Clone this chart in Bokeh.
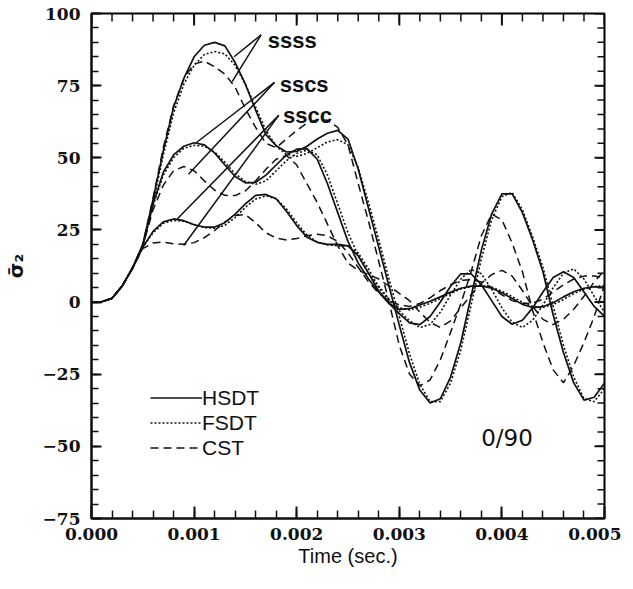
import numpy as np
from bokeh.plotting import figure
from bokeh.models import (Range1d, FixedTicker, Legend, LegendItem,
                          CustomJSTickFormatter, PrintfTickFormatter)
from bokeh.core.properties import value
from bokeh.embed import file_html
from bokeh.resources import INLINE

# time grid (s), 0.0001 s steps
time_s = np.linspace(0.0, 0.005, 51)

# ---- ssss ----
ssss_hsdt = [0, 0.1, 1.3, 5.6, 11.8, 20, 35.5, 52.5, 67.5, 77.5, 85, 89, 90, 88.8, 83, 75.5,
             66.5, 58, 54.2, 52, 52.2, 54, 56.5, 58.5, 59.5, 56.5, 46, 32.5, 19, 5.5, -8,
             -21, -30.5, -35, -33.5, -26, -14, 2, 18, 30.5, 37.5, 37.5, 31, 21.5, 10.5,
             -4.5, -17.5, -28, -34, -33, -28]
ssss_fsdt = [0, 0.1, 1.3, 5.6, 11.8, 19.5, 34.5, 51, 65.5, 75.5, 82, 85.8, 86.8, 86, 82,
             75.5, 67.5, 59.5, 54, 51.2, 50.5, 51.5, 53.5, 55.5, 56.3, 54.5, 46.5, 34.5,
             21.5, 8, -5, -18, -28.5, -34.5, -34.5, -28, -16.5, -1, 15, 28.5, 36.5, 38,
             32, 22.5, 12, -1.5, -15, -26, -33.5, -34.5, -30]
ssss_cst = [0, 0.1, 1.3, 5.6, 11.8, 20, 36, 53.5, 68, 77.5, 82.5, 83.5, 81.5, 79, 74.5,
            67, 60.5, 55, 53.5, 56.5, 59.5, 62, 63.2, 63, 60.5, 54.5, 41, 28, 14, 0, -15,
            -25, -29, -27, -20, -10.5, -0.5, 10.5, 23, 30.5, 28.5, 20.5, 10.5, -3, -14,
            -23.5, -28, -22, -14, -5, 6]

# ---- sscs ----
sscs_hsdt = [0, 0.1, 1.3, 5.6, 11.8, 19.5, 34, 45, 51, 54, 55.2, 54.5, 51.7, 47.5, 43.5,
             41.3, 41.5, 44, 47.5, 51, 53, 53.2, 49.5, 41, 31, 21, 13.5, 8, 3.5, -0.5, -4,
             -7.2, -7.8, -5, 0, 5.5, 9.8, 9.8, 6, 0.5, -5, -7.7, -6.3, -2, 3.5, 8.5, 10.5,
             8.5, 3.5, -1.5, -5]
sscs_fsdt = [0, 0.1, 1.3, 5.6, 11.8, 19.5, 33.5, 44, 50, 53.3, 54.3, 54, 52, 48.5, 44.5,
             41.8, 40.8, 42, 45.5, 49, 51.5, 52.7, 51, 44, 34, 24, 16, 10, 5.5, 1, -3,
             -6.5, -8.8, -7.8, -3.5, 2.5, 8, 11.3, 9.8, 4.5, -2, -7, -8.8, -6.3, -1, 5, 10,
             11.5, 8, 2, -3.5]
sscs_cst = [0, 0.1, 1.3, 5.6, 11.8, 19.5, 32, 40.5, 45.5, 47, 45.5, 42, 38.8, 37, 36.9,
            38.5, 42, 46, 49.5, 50.8, 47.5, 41, 34.5, 27, 19.5, 13.5, 11, 9.5, 8, 5.5, 3,
            0.5, -3.5, -7, -8.8, -6.5, -2, 2.5, 6.5, 9.5, 11, 9, 4, -1.5, -6, -7.8, -6,
            -2.5, 2, 7, 11]

# ---- sscc ----
sscc_hsdt = [0, 0.1, 1.3, 5.6, 11.8, 19, 24.5, 27.8, 28.8, 28.2, 26.8, 26, 26, 27.5, 30.5,
             34, 37, 37.3, 35.8, 31.5, 26.5, 22.5, 20.7, 20, 20, 19.5, 16, 10, 3.8, -0.5,
             -2.5, -2.3, -1, 0.3, 1.8, 3.5, 4.8, 5.5, 5.6, 4.8, 3.2, 1.2, -0.8, -1.9, -1.6,
             -0.2, 1.8, 3.6, 4.8, 5.3, 5.2]
sscc_fsdt = [0, 0.1, 1.3, 5.6, 11.8, 19, 24, 27.3, 28.3, 28, 26.9, 25.8, 25.6, 26.6, 29.3,
             32.8, 35.7, 36.8, 35.8, 32.3, 27.5, 23.2, 20.8, 19.8, 19.5, 19.4, 17, 11.5, 5,
             0.5, -2, -2.7, -1.8, -0.4, 1.2, 3, 4.5, 5.4, 5.7, 5.2, 3.8, 1.9, -0.1, -1.5,
             -1.8, -0.9, 0.9, 2.9, 4.5, 5.4, 5.7]
sscc_cst = [0, 0.1, 1.3, 5.6, 11.8, 18.5, 20.5, 20.8, 20.2, 20, 20.6, 22.3, 24.8, 27.8, 30,
            30.3, 27.5, 24, 22.2, 21.5, 22, 23, 23.5, 23, 21, 17, 12, 7, 3, 0.5, -1, -1.5,
            -0.5, 1.5, 4, 6, 7.5, 7.8, 7, 5, 2.5, 0.5, -0.5, -0.3, 1, 3.5, 6, 8, 9, 9, 8.5]

# axis ranges and tick values
x_lo, x_hi = 0.0, 0.005
y_lo, y_hi = -75, 100
x_major = [0.0, 0.001, 0.002, 0.003, 0.004, 0.005]
x_minor = [round(i * 0.0002, 4) for i in range(26)]
y_major = [-75, -50, -25, 0, 25, 50, 75, 100]
y_minor = list(range(-75, 101, 5))

# annotation labels and leader lines
case_labels = ["ssss", "sscs", "sscc"]
case_label_x = [0.001718, 0.001834, 0.001866]
case_label_y = [90.7, 75.5, 64.8]
leader_x0 = [0.001653, 0.001653, 0.001783, 0.001783, 0.001825, 0.001825]
leader_y0 = [92.6, 92.6, 76.1, 76.1, 64.7, 64.7]
leader_x1 = [0.00139, 0.001371, 0.000945, 0.00102, 0.000835, 0.000898]
leader_y1 = [85.0, 76.4, 44.3, 55.2, 28.8, 19.6]

legend_labels = ["HSDT", "FSDT", "CST"]
layup_text = ["0/90"]
layup_x = [0.00405]
layup_y = [-47.0]

p = figure(frame_width=513, frame_height=505, title=None,
           x_range=Range1d(x_lo, x_hi), y_range=Range1d(y_lo, y_hi),
           output_backend="svg", toolbar_location=None,
           min_border_left=87, min_border_right=17, min_border_top=13, min_border_bottom=55)
p.xgrid.visible = False
p.ygrid.visible = False
p.outline_line_color = "black"
p.outline_line_width = 2
p.background_fill_color = "white"
p.border_fill_color = "white"

INK = "#111111"

def style_axis(ax, ticker, major_in, minor_in):
    ax.ticker = ticker
    ax.major_tick_in = major_in
    ax.major_tick_out = 0
    ax.minor_tick_in = minor_in
    ax.minor_tick_out = 0
    ax.axis_line_width = 2
    ax.axis_line_color = INK
    ax.major_tick_line_width = 2
    ax.major_tick_line_color = INK
    ax.minor_tick_line_width = 1.5
    ax.minor_tick_line_color = INK
    ax.major_label_text_font = "DejaVu Serif"
    ax.major_label_text_font_style = "bold"
    ax.major_label_text_font_size = "17px"
    ax.major_label_text_color = INK

xa = p.xaxis[0]
style_axis(xa, FixedTicker(ticks=x_major, minor_ticks=x_minor), 12, 8)
xa.formatter = PrintfTickFormatter(format="%.3f")
xa.major_label_standoff = 9
xa.axis_label = "Time (sec.)"
xa.axis_label_text_font = "Liberation Sans"
xa.axis_label_text_font_style = "normal"
xa.axis_label_text_font_size = "20px"
xa.axis_label_standoff = 2
xa.axis_label_text_color = INK

ya = p.yaxis[0]
style_axis(ya, FixedTicker(ticks=y_major, minor_ticks=y_minor), 10, 7)
ya.formatter = CustomJSTickFormatter(code="return tick < 0 ? '\u2212' + Math.abs(tick) : tick.toString();")
ya.major_label_standoff = 11
ya.axis_label = "\u03c3\u0304\u2082"
ya.axis_label_text_font = "DejaVu Sans"
ya.axis_label_text_font_style = "bold"
ya.axis_label_text_font_size = "20px"
ya.axis_label_standoff = 12
ya.axis_label_text_color = INK

# inward ticks on the top and right frame edges (dash markers centred on the edge,
# the outer half is clipped away by the frame)
top_major_y = [y_hi] * len(x_major)
top_minor_y = [y_hi] * len(x_minor)
right_major_x = [x_hi] * len(y_major)
right_minor_x = [x_hi] * len(y_minor)
p.scatter(x=x_minor, y=top_minor_y, marker="dash", angle=np.pi / 2, size=16,
          line_color=INK, line_width=1.5)
p.scatter(x=x_major, y=top_major_y, marker="dash", angle=np.pi / 2, size=24,
          line_color=INK, line_width=2)
p.scatter(x=right_minor_x, y=y_minor, marker="dash", size=14,
          line_color=INK, line_width=1.5)
p.scatter(x=right_major_x, y=y_major, marker="dash", size=20,
          line_color=INK, line_width=2)

SOLID_W, DOT_W, DASH_W = 1.7, 1.6, 1.5
DOT, DASH = "2 2", "8 5"

cst_r = []
for ys in (ssss_cst, sscs_cst, sscc_cst):
    cst_r.append(p.line(time_s, ys, line_color=INK, line_width=DASH_W, line_dash=DASH))
fsdt_r = []
for ys in (ssss_fsdt, sscs_fsdt, sscc_fsdt):
    fsdt_r.append(p.line(time_s, ys, line_color=INK, line_width=DOT_W, line_dash=DOT))
hsdt_r = []
for ys in (ssss_hsdt, sscs_hsdt, sscc_hsdt):
    hsdt_r.append(p.line(time_s, ys, line_color=INK, line_width=SOLID_W))

p.segment(x0=leader_x0, y0=leader_y0, x1=leader_x1, y1=leader_y1,
          line_color=INK, line_width=1.5)

p.text(x=case_label_x, y=case_label_y, text=case_labels,
       text_font=value("Liberation Sans"), text_font_style="bold",
       text_font_size="22px", text_align="left", text_baseline="alphabetic",
       text_color=INK)

p.text(x=layup_x, y=layup_y, text=layup_text, text_font=value("DejaVu Sans"),
       text_font_size="23px", text_align="center", text_baseline="middle",
       text_color=INK)

legend = Legend(items=[LegendItem(label=legend_labels[0], renderers=[hsdt_r[0]]),
                       LegendItem(label=legend_labels[1], renderers=[fsdt_r[0]]),
                       LegendItem(label=legend_labels[2], renderers=[cst_r[0]])],
                location=(59, 58), orientation="vertical")
legend.background_fill_alpha = 0
legend.border_line_alpha = 0
legend.padding = 0
legend.margin = 0
legend.spacing = 0
legend.glyph_width = 52
legend.glyph_height = 25
legend.label_height = 25
legend.label_standoff = 0
legend.label_text_font = "Liberation Sans"
legend.label_text_font_size = "21px"
legend.label_text_color = INK
p.add_layout(legend)

open("out.html", "w").write(file_html(p, INLINE))
